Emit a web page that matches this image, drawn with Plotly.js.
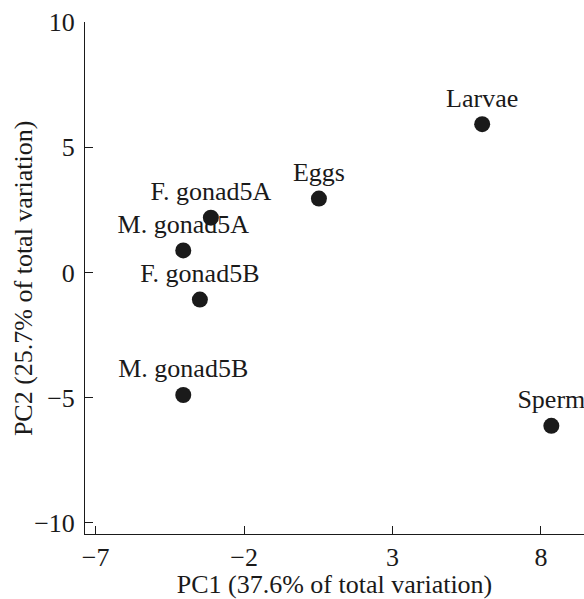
<!DOCTYPE html>
<html>
<head>
<meta charset="utf-8">
<script src="https://cdn.plot.ly/plotly-3.0.1.min.js"></script>
<style>html,body{margin:0;padding:0;background:#fff;}#chart{width:584px;height:599px;}</style>
</head>
<body>
<div id="chart"></div>
<script>
const samples = ["Larvae", "Eggs", "F. gonad5A", "M. gonad5A", "F. gonad5B", "M. gonad5B", "Sperm"];
const pc1 = [6.02, 0.52, -3.12, -4.05, -3.49, -4.05, 8.35];
const pc2 = [5.92, 2.95, 2.19, 0.88, -1.08, -4.89, -6.12];
const xTicks = [-7, -2, 3, 8];
const yTicks = [-10, -5, 0, 5, 10];
const xTitle = "PC1 (37.6% of total variation)";
const yTitle = "PC2 (25.7% of total variation)";

const font = {family: "Liberation Serif, Times New Roman, serif", size: 26, color: "#1a1a1a"};

const trace = {
  x: pc1, y: pc2, text: samples,
  type: "scatter", mode: "markers+text",
  textposition: "top center",
  textfont: font,
  cliponaxis: false,
  marker: {size: 16, color: "#1a1a1a"},
  hoverinfo: "none"
};

const layout = {
  width: 584, height: 599,
  margin: {l: 85, r: 0, t: 22, b: 65},
  paper_bgcolor: "#fff", plot_bgcolor: "#fff",
  showlegend: false,
  font: font,
  xaxis: {
    range: [-7.36, 9.45],
    tickvals: xTicks,
    ticks: "inside", ticklen: 8, tickwidth: 1, tickcolor: "#1a1a1a",
    showline: true, linecolor: "#1a1a1a", linewidth: 1,
    showgrid: false, zeroline: false,
    tickfont: font,
    title: {text: xTitle, font: font, standoff: 0}
  },
  yaxis: {
    range: [-10.44, 10],
    tickvals: yTicks,
    ticks: "inside", ticklen: 8, tickwidth: 1, tickcolor: "#1a1a1a",
    showline: true, linecolor: "#1a1a1a", linewidth: 1,
    showgrid: false, zeroline: false,
    tickfont: font,
    ticklabelstandoff: 4
  },
  annotations: [{
    text: yTitle, font: font, showarrow: false, textangle: -90,
    xref: "paper", yref: "paper", x: -0.124, y: 0.5,
    xanchor: "center", yanchor: "middle"
  }]
};

Plotly.newPlot("chart", [trace], layout, {displayModeBar: false, staticPlot: true});
</script>
</body>
</html>
